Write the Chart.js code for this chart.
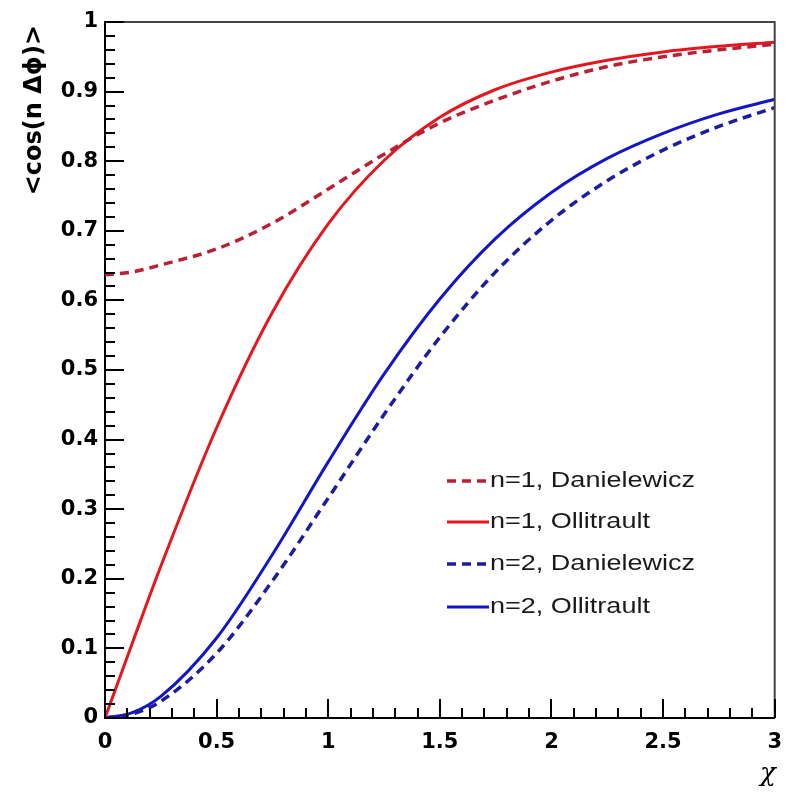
<!DOCTYPE html>
<html>
<head>
<meta charset="utf-8">
<script src="https://cdn.jsdelivr.net/npm/chart.js@4"></script>
<style>
  html, body { margin: 0; padding: 0; background: #ffffff; }
  #c { display: block; }
</style>
</head>
<body>
<canvas id="c" width="794" height="795"></canvas>
<script>
// ---- data ----
const chi = [0, 0.125, 0.25, 0.5, 0.75, 1, 1.25, 1.5, 1.75, 2, 2.25, 2.5, 2.75, 3];
const n1Danielewicz = [0.637, 0.641, 0.651, 0.674, 0.711, 0.760, 0.810, 0.855, 0.888, 0.915, 0.936, 0.950, 0.960, 0.968];
const n1Ollitrault  = [0, 0.110, 0.218, 0.417, 0.583, 0.710, 0.801, 0.863, 0.903, 0.928, 0.945, 0.957, 0.965, 0.971];
const n2Danielewicz = [0, 0.006, 0.024, 0.093, 0.197, 0.316, 0.436, 0.547, 0.641, 0.715, 0.772, 0.816, 0.850, 0.877];
const n2Ollitrault  = [0, 0.008, 0.031, 0.115, 0.235, 0.368, 0.494, 0.602, 0.689, 0.755, 0.804, 0.840, 0.868, 0.889];
const seriesLabels = ['n=1, Danielewicz', 'n=1, Ollitrault', 'n=2, Danielewicz', 'n=2, Ollitrault'];
const xTickLabels = ['0', '0.5', '1', '1.5', '2', '2.5', '3'];
const yTickLabels = ['0', '0.1', '0.2', '0.3', '0.4', '0.5', '0.6', '0.7', '0.8', '0.9', '1'];
const xTitle = 'χ';
const yTitle = '<cos(n Δϕ)>';

const toPts = (ys) => chi.map((x, i) => ({ x: x, y: ys[i] }));

const RED = '#e6161e', RED_D = '#bb1f33', BLUE = '#1515c8', BLUE_D = '#1c1c9e';

const datasets = [
  { label: seriesLabels[0], data: toPts(n1Danielewicz), borderColor: RED_D, borderWidth: 3.5, borderDash: [9, 6] },
  { label: seriesLabels[1], data: toPts(n1Ollitrault),  borderColor: RED,   borderWidth: 3 },
  { label: seriesLabels[2], data: toPts(n2Danielewicz), borderColor: BLUE_D, borderWidth: 3.5, borderDash: [9, 6] },
  { label: seriesLabels[3], data: toPts(n2Ollitrault),  borderColor: BLUE,   borderWidth: 3 }
].map(d => Object.assign({ pointRadius: 0, fill: false, cubicInterpolationMode: 'monotone' }, d));

const framePlugin = {
  id: 'rootFrame',
  afterDraw(chart) {
    const ctx = chart.ctx, a = chart.chartArea;
    const xs = chart.scales.x, ys = chart.scales.y;
    ctx.save();
    // top/right frame
    ctx.strokeStyle = '#444';
    ctx.lineWidth = 2;
    ctx.beginPath();
    ctx.moveTo(a.left, a.top); ctx.lineTo(a.right, a.top); ctx.lineTo(a.right, a.bottom);
    ctx.stroke();
    // inward ticks
    ctx.strokeStyle = '#000';
    ctx.lineWidth = 2;
    ctx.beginPath();
    for (let k = 0; k <= 50; k++) {
      const v = k * 0.02;
      const p = Math.round(ys.getPixelForValue(v));
      const len = (k % 5 === 0) ? 19 : 10;
      ctx.moveTo(a.left, p); ctx.lineTo(a.left + len, p);
    }
    for (let k = 0; k <= 30; k++) {
      const v = k * 0.1;
      const p = Math.round(xs.getPixelForValue(v));
      const len = (k % 5 === 0) ? 19 : 10;
      ctx.moveTo(p, a.bottom); ctx.lineTo(p, a.bottom - len);
    }
    ctx.stroke();

    // legend
    const rowsY = [481, 522, 564, 607];
    ctx.font = '22px "Liberation Sans", Arial, sans-serif';
    const sx = 205 / ctx.measureText(seriesLabels[0]).width;
    chart.data.datasets.forEach((ds, i) => {
      const y = rowsY[i];
      ctx.save();
      ctx.strokeStyle = ds.borderColor;
      ctx.lineWidth = ds.borderWidth;
      ctx.setLineDash(ds.borderDash || []);
      ctx.beginPath();
      ctx.moveTo(447, y); ctx.lineTo(489, y);
      ctx.stroke();
      ctx.restore();
      ctx.save();
      ctx.fillStyle = '#1a1a1a';
      ctx.textBaseline = 'middle';
      ctx.translate(490, y);
      ctx.scale(sx, 1);
      ctx.fillText(ds.label, 0, 0);
      ctx.restore();
    });

    // axis titles
    ctx.save();
    ctx.fillStyle = '#000';
    ctx.font = 'bold 24px "DejaVu Sans", sans-serif';
    ctx.translate(35, 25);
    ctx.rotate(-Math.PI / 2);
    ctx.textAlign = 'right';
    ctx.textBaseline = 'middle';
    ctx.fillText(yTitle, 0, 0);
    ctx.restore();

    ctx.save();
    ctx.fillStyle = '#000';
    ctx.font = 'italic 26px "DejaVu Serif", serif';
    ctx.textAlign = 'center';
    ctx.textBaseline = 'middle';
    ctx.fillText(xTitle, 768, 774);
    ctx.restore();
    ctx.restore();
  }
};

new Chart(document.getElementById('c'), {
  type: 'line',
  data: { datasets: datasets },
  options: {
    responsive: false,
    animation: false,
    events: [],
    layout: { padding: { left: 0, top: 22, right: 16, bottom: 0 } },
    plugins: { legend: { display: false }, tooltip: { enabled: false } },
    scales: {
      x: {
        type: 'linear', min: 0, max: 3,
        afterFit: (s) => { s.height = 77; },
        grid: { display: false, drawTicks: false },
        border: { display: true, color: '#000', width: 2 },
        ticks: {
          stepSize: 0.5, padding: 12, color: '#000',
          font: { family: '"DejaVu Sans", sans-serif', size: 21, weight: 'bold' },
          maxRotation: 0, autoSkip: false,
          callback: (v) => { const i = Math.round(v / 0.5); return Math.abs(v - i * 0.5) < 1e-6 ? xTickLabels[i] : ''; }
        }
      },
      y: {
        type: 'linear', min: 0, max: 1,
        afterFit: (s) => { s.width = 105; },
        grid: { display: false, drawTicks: false },
        border: { display: true, color: '#000', width: 2 },
        ticks: {
          stepSize: 0.1, padding: 7, color: '#000',
          font: { family: '"DejaVu Sans", sans-serif', size: 21, weight: 'bold' },
          autoSkip: false,
          callback: (v) => { const i = Math.round(v / 0.1); return Math.abs(v - i * 0.1) < 1e-6 ? yTickLabels[i] : ''; }
        }
      }
    }
  },
  plugins: [framePlugin]
});
</script>
</body>
</html>
